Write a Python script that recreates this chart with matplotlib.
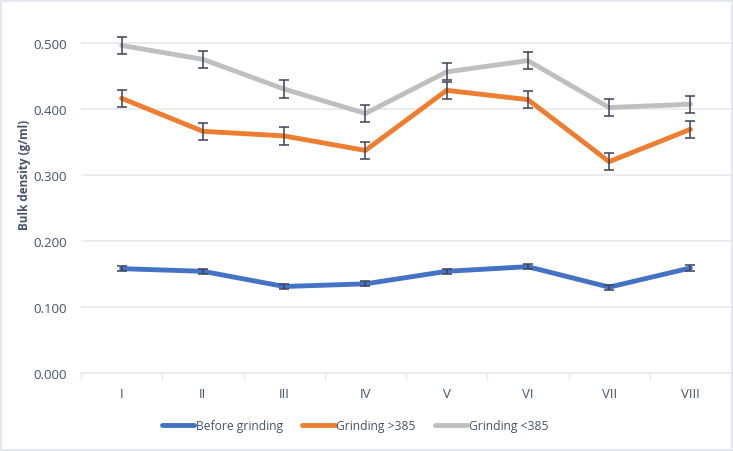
import matplotlib
matplotlib.use("Agg")
import matplotlib.pyplot as plt
import numpy as np
from matplotlib.patches import Rectangle

categories = ["I", "II", "III", "IV", "V", "VI", "VII", "VIII"]
before = [0.158, 0.154, 0.131, 0.135, 0.154, 0.161, 0.130, 0.159]
before_err = [0.004, 0.004, 0.004, 0.004, 0.004, 0.004, 0.004, 0.004]
g_gt385 = [0.416, 0.366, 0.359, 0.337, 0.428, 0.414, 0.320, 0.369]
g_gt385_err = [0.013, 0.013, 0.013, 0.013, 0.013, 0.013, 0.013, 0.013]
g_lt385 = [0.496, 0.475, 0.430, 0.393, 0.456, 0.473, 0.402, 0.407]
g_lt385_err = [0.013, 0.013, 0.013, 0.013, 0.013, 0.013, 0.013, 0.013]
yticks = [0.0, 0.1, 0.2, 0.3, 0.4, 0.5]

plt.rcParams['font.family'] = ['Open Sans', 'DejaVu Sans']
txt = "#44546A"
grid = "#E7E9EF"

fig = plt.figure(figsize=(7.33, 4.52), dpi=100)
ax = fig.add_axes([81/733, 1-374/452, 650/733, (374-24)/452])

x = np.arange(len(categories))
series = [(before, before_err, "#4472C4", "Before grinding"),
          (g_gt385, g_gt385_err, "#ED7D31", "Grinding >385"),
          (g_lt385, g_lt385_err, "#BFBFBF", "Grinding <385")]
handles = []
for vals, err, col, lab in series:
    h, = ax.plot(x, vals, color=col, lw=3.5, solid_capstyle='round', label=lab, zorder=3)
    ax.errorbar(x, vals, yerr=err, fmt='none', ecolor="#3A4356", elinewidth=1.1,
                capsize=3.5, capthick=1.1, zorder=4)
    handles.append(h)

ax.set_xlim(-0.5, len(categories) - 0.5)
ax.set_ylim(0, 0.53)
ax.set_yticks(yticks)
ax.set_yticklabels([f"{v:.3f}" for v in yticks])
ax.set_xticks(x)
ax.set_xticklabels(categories)
ax.set_xticks(np.arange(-0.5, len(categories), 1), minor=True)
ax.tick_params(axis='x', which='major', length=0, pad=10, colors=txt, labelsize=9.5)
ax.tick_params(axis='x', which='minor', length=5, color=grid, width=1)
ax.tick_params(axis='y', length=0, pad=10, colors=txt, labelsize=9.5)
ax.grid(axis='y', color=grid, lw=1.2, zorder=0)
for s in ['top', 'right', 'left']:
    ax.spines[s].set_visible(False)
ax.spines['bottom'].set_color(grid)
ax.spines['bottom'].set_linewidth(1.2)
ax.set_ylabel("Bulk density (g/ml)", fontsize=8.5, fontweight='bold', color=txt)
ax.yaxis.set_label_coords(-0.077, 0.57)

leg = fig.legend(handles=handles, loc='center', bbox_to_anchor=(355/733, 1-427/452), ncol=3,
                 frameon=False, fontsize=8.7, handlelength=2.7, handletextpad=0.1,
                 columnspacing=1.6, labelcolor=txt)

fig.patches.append(Rectangle((0.002, 0.002), 0.996, 0.994, transform=fig.transFigure,
                             fill=False, edgecolor="#E4E7EE", lw=1.5))
fig.savefig("out.png", dpi=100)
